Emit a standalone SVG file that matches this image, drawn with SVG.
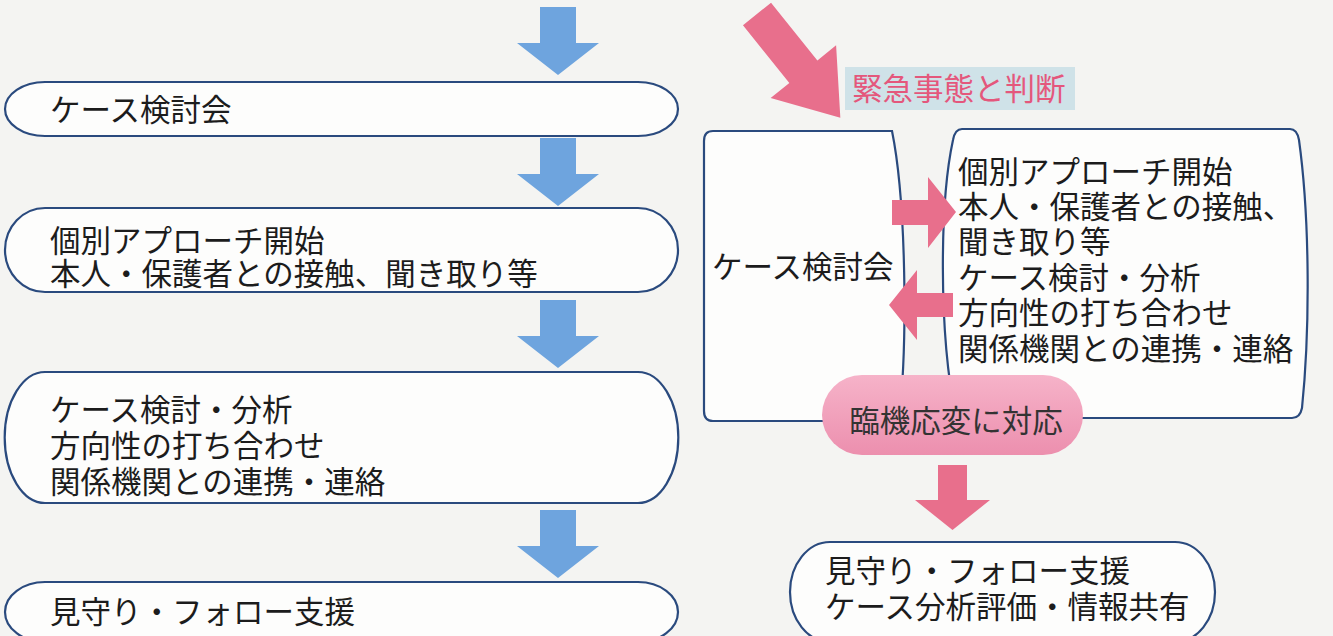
<svg xmlns="http://www.w3.org/2000/svg" width="1333" height="636" viewBox="0 0 1333 636">
<defs>
<style>
.box{fill:#fdfdfc;stroke:#2a4a7e;stroke-width:2.2}
.t{font-family:"Noto Sans CJK JP","Noto Sans",sans-serif;font-size:30.5px;fill:#1c1c1c}
.blue{fill:#6ea4de}
.pink{fill:#e86f8c}
</style>
<linearGradient id="pillg" x1="0" y1="0" x2="0" y2="1">
<stop offset="0" stop-color="#f6b3c9"/>
<stop offset="1" stop-color="#ec8fae"/>
</linearGradient>
<path id="darr" d="M -18,0 H 18 V 36 H 41 L 0,68 L -41,36 H -18 Z"/>
</defs>
<rect x="0" y="0" width="1333" height="636" fill="#f4f4f2"/>

<g id="connectors">
<use href="#darr" class="blue" x="558" y="7"/>
<use href="#darr" class="blue" x="558" y="138"/>
<use href="#darr" class="blue" x="558" y="300"/>
<use href="#darr" class="blue" x="558" y="510"/>
<path class="pink" transform="translate(757,14) rotate(51.2)" d="M 0,-18 H 74 V -42 L 133,0 L 74,42 V 18 H 0 Z"/>
</g>

<g id="n1"><path class="box" d="M 45,82 H 638 A 40,27 0 0 1 638,136 H 45 A 40,27 0 0 1 45,82 Z"/>
<text class="t" x="50" y="121">ケース検討会</text></g>

<g id="n2"><path class="box" d="M 45,208 H 638 A 40,42 0 0 1 638,292 H 45 A 40,42 0 0 1 45,208 Z"/>
<text class="t" x="50" y="252">個別アプローチ開始</text>
<text class="t" x="50" y="285">本人・保護者との接触、聞き取り等</text></g>

<g id="n3"><path class="box" d="M 45,372 H 638 A 40,65 0 0 1 638,503 H 45 A 40,65 0 0 1 45,372 Z"/>
<text class="t" x="50" y="421">ケース検討・分析</text>
<text class="t" x="50" y="457">方向性の打ち合わせ</text>
<text class="t" x="50" y="493">関係機関との連携・連絡</text></g>

<g id="n4"><path class="box" d="M 45,582 H 638 A 40,30 0 0 1 638,642 H 45 A 40,30 0 0 1 45,582 Z"/>
<text class="t" x="50" y="623">見守り・フォロー支援</text></g>

<g id="label-emergency"><rect x="845" y="67" width="230" height="43" fill="#cfe2e8"/>
<text class="t" x="852" y="100" style="fill:#e4577c">緊急事態と判断</text></g>

<g id="n5"><path class="box" d="M 713,131 H 892 C 906,200 908,340 899,421 H 713 Q 704,421 704,411 V 141 Q 704,131 713,131 Z"/>
<text class="t" x="712" y="278">ケース検討会</text></g>

<g id="n6"><path class="box" d="M 962,129 H 1290 Q 1297,129 1299,140 C 1310,220 1310,330 1302,408 Q 1300,418 1292,418 H 956 C 938,330 940,200 953,140 Q 955,129 962,129 Z"/>
<text class="t" x="958" y="183">個別アプローチ開始</text>
<text class="t" x="958" y="218">本人・保護者との接触、</text>
<text class="t" x="958" y="253">聞き取り等</text>
<text class="t" x="958" y="289">ケース検討・分析</text>
<text class="t" x="958" y="324">方向性の打ち合わせ</text>
<text class="t" x="958" y="360">関係機関との連携・連絡</text></g>

<g id="connectors-inner">
<path class="pink" d="M 892,200 H 928 V 177 L 956,212 L 928,248 V 225 H 892 Z"/>
<path class="pink" d="M 953,293 H 917 V 270 L 889,305 L 917,340 V 317 H 953 Z"/>
<path class="pink" d="M 938,465 H 967 V 500 H 990 L 952.5,530 L 915,500 H 938 Z"/>
</g>

<g id="n7"><rect x="822" y="375" width="261" height="80" rx="40" fill="url(#pillg)"/>
<text class="t" x="956" y="432" text-anchor="middle" style="fill:#333">臨機応変に対応</text></g>

<g id="n8"><path class="box" d="M 830,542 H 1175 A 40,50 0 0 1 1175,642 H 830 A 40,50 0 0 1 830,542 Z"/>
<text class="t" x="825" y="582">見守り・フォロー支援</text>
<text class="t" x="825" y="618">ケース分析評価・情報共有</text></g>
</svg>
